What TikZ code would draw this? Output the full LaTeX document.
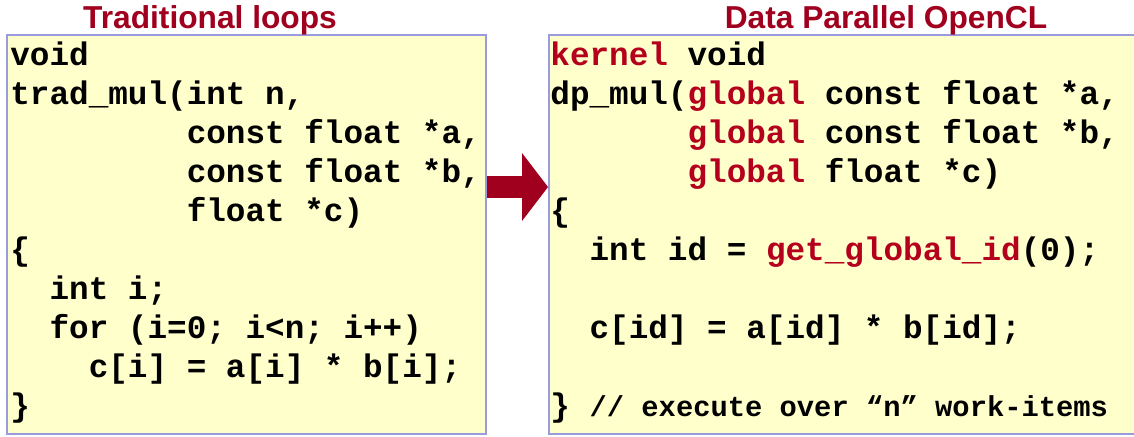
\documentclass[tikz,border=0pt]{standalone}
\usepackage{fontspec}
\setmainfont{Liberation Sans}
\newfontfamily\codefont{Liberation Mono}
\usetikzlibrary{arrows.meta}

\definecolor{codebg}{HTML}{FFFFCC}
\definecolor{codeframe}{HTML}{9A9ADE}
\definecolor{titlered}{HTML}{A0001E}
\definecolor{kwred}{HTML}{B4001C}
\newcommand{\kw}[1]{\textcolor{kwred}{#1}}
\newcommand{\smallcomment}[1]{{\fontsize{14.4}{17}\selectfont #1}}

\begin{document}
\begin{tikzpicture}[x=0.5pt,y=-0.5pt,
    % styles
    code box/.style={fill=codebg,draw=codeframe,line width=0.8pt,inner sep=0pt,anchor=north west},
    title/.style={font=\fontsize{15.85}{18}\selectfont\bfseries,text=titlered,inner sep=0pt,anchor=base},
    code/.style={font=\fontsize{16.33}{19}\selectfont\codefont\bfseries,inner sep=0pt,anchor=base west},
    big arrow/.style={draw=titlered,line width=11pt,
      -{Triangle[length=13pt,width=34pt,line width=0pt,fill=titlered]}}]

  \useasboundingbox (0,0) rectangle (1134,436);

  % boxes
  \node (trad) [code box,minimum width=239.5pt,minimum height=199.5pt] at (6,34) {};
  \node (dp) [code box,minimum width=293pt,minimum height=199.5pt] at (548,34) {};

  % titles
  \node (tradtitle) [title] at (210,28) {Traditional loops};
  \node (dptitle) [title] at (886,28) {Data Parallel OpenCL};

  % arrow
  \coordinate (arrow level) at (0,187);
  \draw [big arrow] (trad.east |- arrow level) -- (dp.west |- arrow level);

  % traditional code
  \node (trad1) [code] at (10,65) {void};
  \node (trad2) [code] at (10,104) {trad\_mul(int n,};
  \node (trad3) [code] at (186.4,143) {const float *a,};
  \node (trad4) [code] at (186.4,182) {const float *b,};
  \node (trad5) [code] at (186.4,221) {float *c)};
  \node (trad6) [code] at (10,260) {\{};
  \node (trad7) [code] at (49.2,299) {int i;};
  \node (trad8) [code] at (49.2,338) {for (i=0; i<n; i++)};
  \node (trad9) [code] at (88.4,377) {c[i] = a[i] * b[i];};
  \node (trad10) [code] at (10,416) {\}};

  % opencl code
  \node (dp1) [code] at (550,65) {\kw{kernel} void};
  \node (dp2) [code] at (550,104) {dp\_mul(\kw{global} const float *a,};
  \node (dp3) [code] at (687.2,143) {\kw{global} const float *b,};
  \node (dp4) [code] at (687.2,182) {\kw{global} float *c)};
  \node (dp5) [code] at (550,221) {\{};
  \node (dp6) [code] at (589.2,260) {int id = \kw{get\_global\_id}(0);};
  \node (dp7) [code] at (589.2,338) {c[id] = a[id] * b[id];};
  \node (dp8) [code] at (550,416) {\} \smallcomment{// execute over “n” work-items}};
\end{tikzpicture}
\end{document}
